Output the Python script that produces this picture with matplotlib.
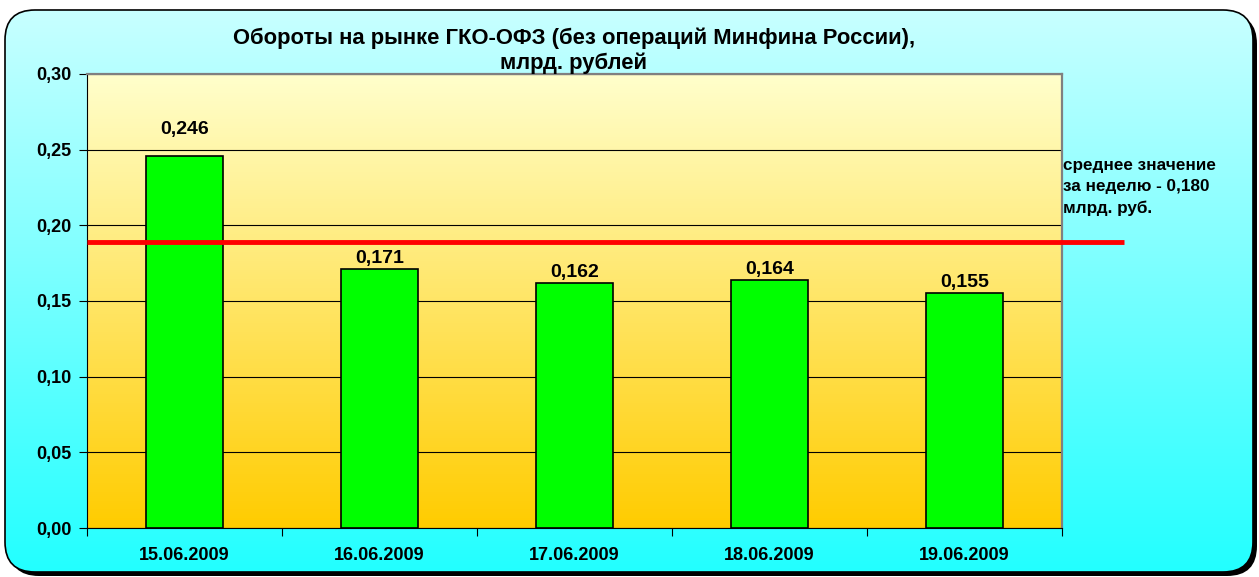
import numpy as np
import matplotlib.pyplot as plt
from matplotlib.colors import LinearSegmentedColormap
from matplotlib.patches import FancyBboxPatch

dates = ['15.06.2009', '16.06.2009', '17.06.2009', '18.06.2009', '19.06.2009']
values = [0.246, 0.171, 0.162, 0.164, 0.155]
value_labels = ['0,246', '0,171', '0,162', '0,164', '0,155']
avg_line = 0.189
avg_text = 'среднее значение\nза неделю - 0,180\nмлрд. руб.'
title = 'Обороты на рынке ГКО-ОФЗ (без операций Минфина России),\nмлрд. рублей'
yticks = [0.0, 0.05, 0.10, 0.15, 0.20, 0.25, 0.30]
label_gap = [0.012, 0.0015, 0.0015, 0.0015, 0.0015]  # label placement above bar tops

plt.rcParams['font.family'] = ['Liberation Sans', 'DejaVu Sans']
plt.rcParams['font.weight'] = 'bold'

W, H = 1259, 577
fig = plt.figure(figsize=(W / 100, H / 100), dpi=100)
fig.patch.set_facecolor('white')

# background panel in pixel coordinates
bg = fig.add_axes([0, 0, 1, 1], zorder=-1)
bg.set_xlim(0, W)
bg.set_ylim(H, 0)
bg.axis('off')
shadow = FancyBboxPatch((9, 14), 1248, 562, boxstyle='round,pad=0,rounding_size=30',
                        facecolor='black', edgecolor='none', zorder=0)
bg.add_patch(shadow)
box = FancyBboxPatch((5, 10), 1248, 562, boxstyle='round,pad=0,rounding_size=30',
                     facecolor='none', edgecolor='black', linewidth=1.2, zorder=2)
bg.add_patch(box)
grad = np.linspace(0, 1, 256).reshape(-1, 1)
im = bg.imshow(grad, aspect='auto', extent=[5, 1253, 572, 10], origin='upper', zorder=1,
               cmap=LinearSegmentedColormap.from_list('bg', ['#C8FFFF', '#22FFFF']))
im.set_clip_path(box)

ax = fig.add_axes([87 / W, 49 / H, 975 / W, 454 / H], zorder=1)
ax.set_facecolor('none')
x = np.arange(len(dates))
ax.set_xlim(-0.5, len(dates) - 0.5)
ax.set_ylim(0, 0.30)

ax.imshow(grad, aspect='auto', extent=[-0.5, len(dates) - 0.5, 0, 0.30],
          origin='lower', zorder=0,
          cmap=LinearSegmentedColormap.from_list('pl', ['#FFCC00', '#FFFFCC']))

ax.set_yticks(yticks)
ax.set_yticklabels([f'{v:.2f}'.replace('.', ',') for v in yticks], fontsize=13, fontweight='bold')
ax.yaxis.grid(True, color='black', linewidth=0.8)
ax.set_axisbelow(True)

ax.bar(x, values, width=0.395, color='#00FF00', edgecolor='black', linewidth=1.2, zorder=2)
for xi, v, lab, g in zip(x, values, value_labels, label_gap):
    ax.text(xi, v + g, lab, ha='center', va='bottom', fontsize=14, fontweight='bold', zorder=3)

ax.plot([-0.5, 4.818], [avg_line, avg_line], color='#FF0000', linewidth=3.5,
        clip_on=False, zorder=4, solid_capstyle='butt')

ax.set_xticks(np.arange(-0.5, len(dates), 1.0))
ax.set_xticklabels([])
ax.set_xticks(x, minor=True)
ax.set_xticklabels(dates, minor=True, fontsize=13, fontweight='bold')
ax.tick_params(axis='x', which='minor', length=0, pad=14)
ax.tick_params(axis='x', which='major', length=6, direction='out')
ax.tick_params(axis='y', length=6, direction='out', pad=5)

for side in ('top', 'right'):
    ax.spines[side].set_color('#808080')
    ax.spines[side].set_linewidth(1.6)
ax.spines['left'].set_color('black')
ax.spines['bottom'].set_color('black')

fig.text(574 / W, 1 - 51 / H, title, ha='center', va='center', fontsize=15.8,
         fontweight='bold', linespacing=1.2)
fig.text(1063 / W, 1 - 187 / H, avg_text, ha='left', va='center', fontsize=12.3,
         fontweight='bold', linespacing=1.55)

fig.savefig('out.png', dpi=100)
